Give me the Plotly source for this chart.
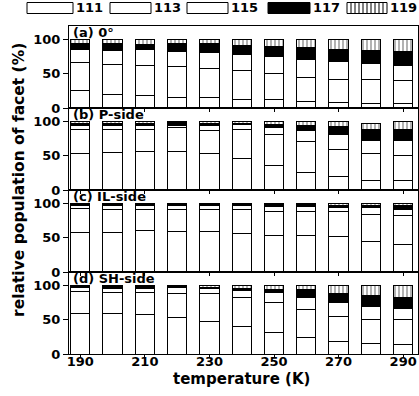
import plotly.graph_objects as go
from plotly.subplots import make_subplots

# Temperatures (K) and facet families
temperatures = [190, 200, 210, 220, 230, 240, 250, 260, 270, 280, 290]
facets = ["111", "113", "115", "117", "119"]
panel_labels = ["(a) 0°", "(b) P-side", "(c) IL-side", "(d) SH-side"]
x_tick_values = [190, 210, 230, 250, 270, 290]
y_tick_values = [0, 50, 100]

# (a) 0° : relative population of each facet (%)
a_111 = [25, 20, 19, 16, 15, 13, 12, 10, 8, 6, 6]
a_113 = [42, 44, 43, 45, 43, 42, 38, 35, 34, 35, 34]
a_115 = [19, 20, 23, 22, 23, 24, 26, 26, 26, 24, 22]
a_117 = [8, 10, 8, 11, 13, 13, 14, 18, 18, 19, 20]
a_119 = [6, 6, 7, 6, 6, 8, 10, 11, 14, 16, 18]

# (b) P-side
b_111 = [54, 55, 57, 57, 53, 46, 36, 26, 20, 14, 14]
b_113 = [34, 33, 32, 34, 34, 42, 45, 45, 40, 39, 37]
b_115 = [7, 7, 6, 4, 7, 8, 11, 16, 21, 19, 22]
b_117 = [3, 3, 3, 4, 4, 2, 4, 8, 12, 16, 16]
b_119 = [2, 2, 2, 1, 2, 2, 4, 5, 7, 10, 11]

# (c) IL-side
c_111 = [58, 58, 61, 60, 59, 57, 54, 53, 52, 44, 40]
c_113 = [35, 34, 31, 32, 32, 34, 35, 35, 36, 40, 42]
c_115 = [4, 5, 5, 5, 6, 6, 7, 8, 6, 10, 10]
c_117 = [2, 2, 2, 2, 2, 2, 3, 3, 4, 4, 5]
c_119 = [1, 1, 1, 1, 1, 1, 1, 1, 2, 2, 3]

# (d) SH-side
d_111 = [60, 59, 58, 54, 48, 40, 31, 24, 18, 15, 14]
d_113 = [31, 31, 32, 35, 40, 43, 45, 41, 37, 35, 37]
d_115 = [6, 6, 6, 8, 8, 10, 14, 18, 21, 20, 16]
d_117 = [2, 3, 3, 2, 2, 3, 5, 12, 13, 15, 16]
d_119 = [1, 1, 1, 1, 2, 4, 5, 5, 11, 15, 17]

panels = [
    [a_111, a_113, a_115, a_117, a_119],
    [b_111, b_113, b_115, b_117, b_119],
    [c_111, c_113, c_115, c_117, c_119],
    [d_111, d_113, d_115, d_117, d_119],
]

FONT = "DejaVu Sans"
STRIPES = dict(shape="|", fgcolor="black", bgcolor="white", size=4, solidity=0.3)
fills = {
    "111": dict(color="white"),
    "113": dict(color="white"),
    "115": dict(color="white"),
    "117": dict(color="black"),
    "119": dict(color="white", pattern=STRIPES),
}

fig = make_subplots(rows=4, cols=1, shared_xaxes=True, vertical_spacing=0)

for row, series in enumerate(panels, start=1):
    for facet, values in zip(facets, series):
        fig.add_trace(
            go.Bar(
                x=temperatures,
                y=values,
                name=facet,
                width=6,
                marker=dict(line=dict(color="black", width=1), **fills[facet]),
                showlegend=False,
            ),
            row=row,
            col=1,
        )

# plot-area geometry in pixels
W, H = 419, 396
L, R, T, B = 69, 418, 26, 354


def px(x):
    return (x - L) / (R - L)


def py(y):
    return (B - y) / (B - T)


fig.update_layout(
    width=W,
    height=H,
    margin=dict(l=L, r=W - R, t=T, b=H - B),
    barmode="stack",
    plot_bgcolor="white",
    paper_bgcolor="white",
    font=dict(family=FONT, size=13, color="black", weight="bold"),
    showlegend=False,
)

fig.update_yaxes(
    range=[0, 120],
    tickvals=y_tick_values,
    ticks="outside",
    ticklen=5,
    tickwidth=1,
    tickcolor="black",
    showline=True,
    linecolor="black",
    linewidth=1,
    mirror=True,
    showgrid=False,
    zeroline=False,
    tickfont=dict(family=FONT, size=13, color="black", weight="bold"),
)
fig.update_xaxes(
    range=[186.5, 294.6],
    tickvals=x_tick_values,
    ticks="outside",
    ticklen=3,
    tickwidth=1,
    tickcolor="black",
    ticklabelstandoff=-8,
    showline=True,
    linecolor="black",
    linewidth=1,
    mirror=True,
    showgrid=False,
    zeroline=False,
    tickfont=dict(family=FONT, size=13, color="black", weight="bold"),
)

annotations = []
# panel labels
for row, label in enumerate(panel_labels, start=1):
    yref = "y domain" if row == 1 else f"y{row} domain"
    annotations.append(dict(
        text=label, xref="paper", yref=yref, x=px(71), y=1.0,
        xanchor="left", yanchor="top", yshift=3, showarrow=False,
        font=dict(family=FONT, size=13, color="black", weight="bold"),
    ))

# axis titles
annotations.append(dict(
    text="relative population of facet (%)", xref="paper", yref="paper",
    x=px(19), y=py(180), textangle=-90, xanchor="center", yanchor="middle",
    showarrow=False, font=dict(family=FONT, size=15.5, color="black", weight="bold"),
))
annotations.append(dict(
    text="temperature (K)", xref="paper", yref="paper",
    x=px(241), y=py(379), xanchor="center", yanchor="middle",
    showarrow=False, font=dict(family=FONT, size=15, color="black", weight="bold"),
))

# legend drawn as wide swatches across the top
shapes = []
legend_boxes = [(27, 73), (110, 151), (187, 228), (268, 310), (347, 387)]
box_top, box_bot = 2.5, 13.5
for facet, (x0, x1) in zip(facets, legend_boxes):
    fill = "black" if facet == "117" else "white"
    shapes.append(dict(
        type="rect", xref="paper", yref="paper",
        x0=px(x0), x1=px(x1), y0=py(box_bot), y1=py(box_top),
        line=dict(color="black", width=1), fillcolor=fill,
    ))
    if facet == "119":
        xs = x0 + 4
        while xs < x1 - 1:
            shapes.append(dict(
                type="line", xref="paper", yref="paper",
                x0=px(xs), x1=px(xs), y0=py(box_bot), y1=py(box_top),
                line=dict(color="black", width=1),
            ))
            xs += 4
    annotations.append(dict(
        text=facet, xref="paper", yref="paper", x=px(x1 + 0.5), y=py(8),
        xanchor="left", yanchor="middle", showarrow=False,
        font=dict(family=FONT, size=13, color="black", weight="bold"),
    ))

fig.update_layout(annotations=annotations, shapes=shapes)

fig.write_html("out.html")
